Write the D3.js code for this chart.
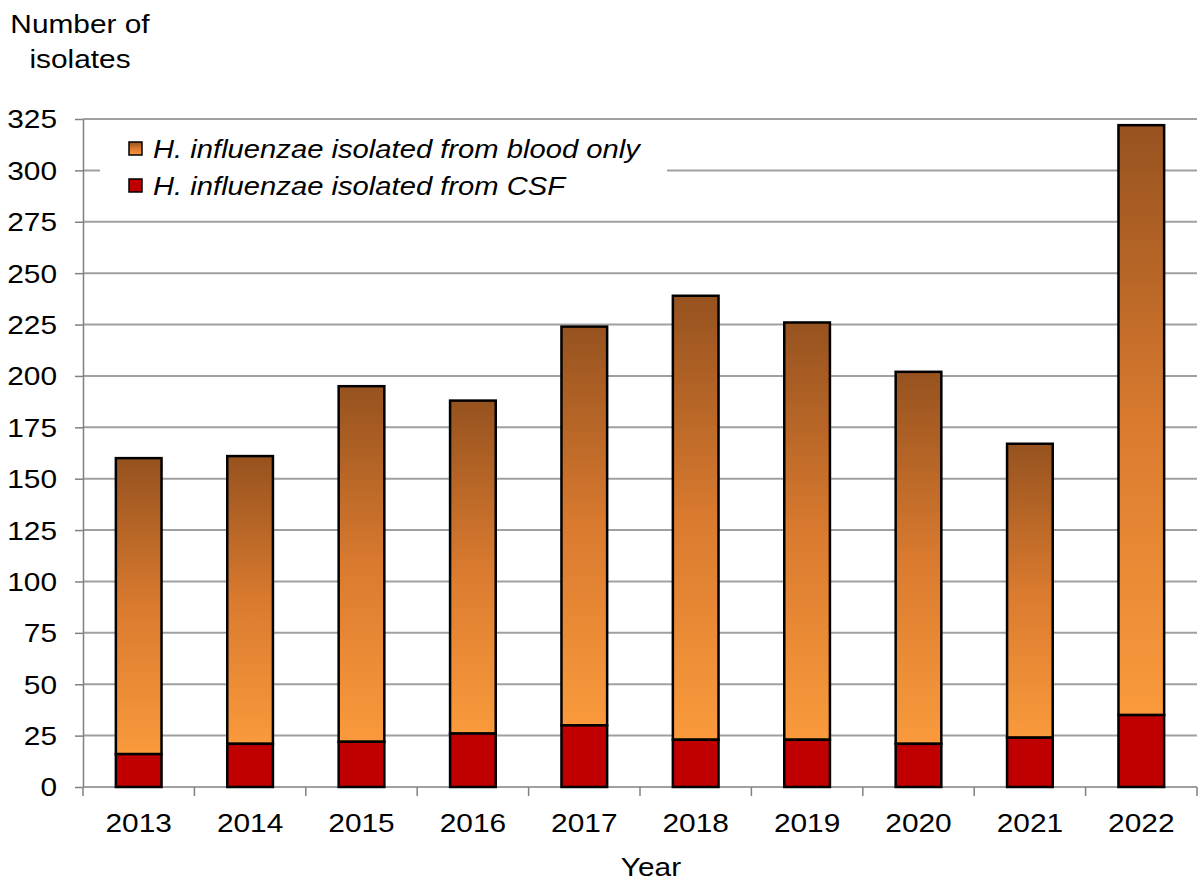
<!DOCTYPE html>
<html>
<head>
<meta charset="utf-8">
<script src="https://cdn.jsdelivr.net/npm/d3@7"></script>
<style>
  html, body { margin: 0; padding: 0; background: #fff; }
  svg { display: block; font-family: "Liberation Sans", Arial, sans-serif; }
</style>
</head>
<body>
<svg id="chart" width="1200" height="881"></svg>
<script>
// Invasive H. influenzae isolates per year, split by specimen site
const years = ["2013", "2014", "2015", "2016", "2017", "2018", "2019", "2020", "2021", "2022"];
const csf = [16, 21, 22, 26, 30, 23, 23, 21, 24, 35];
const bloodOnly = [144, 140, 173, 162, 194, 216, 203, 181, 143, 287];
const yTicks = [0, 25, 50, 75, 100, 125, 150, 175, 200, 225, 250, 275, 300, 325];
const seriesNames = ["H. influenzae isolated from blood only", "H. influenzae isolated from CSF"];

const FONT = 25.5;      // text size
const STRETCH = 1.17;   // horizontal widening of the lettering

const svg = d3.select("#chart");
const margin = { left: 83, right: 1197, top: 119, bottom: 787 };

const x = d3.scaleBand().domain(years).range([margin.left, margin.right]).paddingInner(0.59).paddingOuter(0.295);
const xEdge = d3.scaleBand().domain(years).range([margin.left, margin.right]);
const y = d3.scaleLinear().domain([0, 325]).range([margin.bottom, margin.top]);

// places a widened text with its anchor at (px, py)
function label(parent, px, py, str, anchor, opts = {}) {
  const t = parent.append("text")
    .attr("transform", `translate(${px},${py}) scale(${opts.stretch || STRETCH},1)`)
    .attr("text-anchor", anchor)
    .attr("font-size", opts.size || FONT)
    .attr("fill", "#000")
    .text(str);
  if (opts.italic) t.attr("font-style", "italic");
  if (opts.dy) t.attr("dy", opts.dy);
  return t;
}

// gradient used for the blood-only segments
const defs = svg.append("defs");
const grad = defs.append("linearGradient").attr("id", "bloodGrad")
  .attr("x1", 0).attr("y1", 0).attr("x2", 0).attr("y2", 1);
grad.append("stop").attr("offset", "0%").attr("stop-color", "#96521f");
grad.append("stop").attr("offset", "50%").attr("stop-color", "#d97a2f");
grad.append("stop").attr("offset", "100%").attr("stop-color", "#fa9a3c");

// horizontal gridlines
svg.append("g").selectAll("line").data(yTicks.filter(d => d > 0)).join("line")
  .attr("x1", margin.left).attr("x2", margin.right)
  .attr("y1", d => y(d)).attr("y2", d => y(d))
  .attr("stroke", "#a0a0a0").attr("stroke-width", 2);

// y axis
const yAxis = svg.append("g").attr("transform", `translate(${margin.left},0)`)
  .call(d3.axisLeft(y).tickValues(yTicks).tickSize(8).tickSizeOuter(0));
yAxis.select(".domain").attr("stroke", "#808080").attr("stroke-width", 1.5);
yAxis.selectAll(".tick line").attr("stroke", "#808080").attr("stroke-width", 1.5);
yAxis.selectAll(".tick text").remove();
yAxis.selectAll(".tick").each(function (d) {
  label(d3.select(this), -26, 0, d, "end", { dy: "0.35em" });
});

// x axis with ticks at category boundaries
const xAxisG = svg.append("g").attr("transform", `translate(0,${margin.bottom})`);
xAxisG.append("line").attr("x1", margin.left).attr("x2", margin.right)
  .attr("stroke", "#808080").attr("stroke-width", 1.5);
const boundaries = years.map(d => xEdge(d)).concat([margin.right]);
xAxisG.selectAll("line.tk").data(boundaries).join("line").attr("class", "tk")
  .attr("x1", d => d).attr("x2", d => d).attr("y1", 0).attr("y2", 9)
  .attr("stroke", "#808080").attr("stroke-width", 1.5);
years.forEach(d => label(xAxisG, x(d) + x.bandwidth() / 2, 45, d, "middle"));

// stacked bars
const bars = svg.append("g");
years.forEach((yr, i) => {
  const bx = x(yr), bw = x.bandwidth();
  bars.append("rect")
    .attr("x", bx).attr("width", bw)
    .attr("y", y(csf[i] + bloodOnly[i])).attr("height", y(csf[i]) - y(csf[i] + bloodOnly[i]))
    .attr("fill", "url(#bloodGrad)").attr("stroke", "#000").attr("stroke-width", 2.5);
  bars.append("rect")
    .attr("x", bx).attr("width", bw)
    .attr("y", y(csf[i])).attr("height", y(0) - y(csf[i]))
    .attr("fill", "#c00000").attr("stroke", "#000").attr("stroke-width", 2.5);
});

// legend
const legend = svg.append("g");
legend.append("rect").attr("x", 100).attr("y", 126).attr("width", 567).attr("height", 84).attr("fill", "#fff");
const swatchFill = ["url(#bloodGrad)", "#c00000"];
seriesNames.forEach((name, i) => {
  const cy = 149 + i * 37;
  legend.append("rect").attr("x", 129).attr("y", cy - 7).attr("width", 13).attr("height", 13)
    .attr("fill", swatchFill[i]).attr("stroke", "#000").attr("stroke-width", 1.5);
  label(legend, 153, cy + 9, name, "start", { italic: true, stretch: 1.145 });
});

// axis titles
label(svg, 80, 33, "Number of", "middle");
label(svg, 80, 68, "isolates", "middle");
label(svg, 651, 876, "Year", "middle");
</script>
</body>
</html>
